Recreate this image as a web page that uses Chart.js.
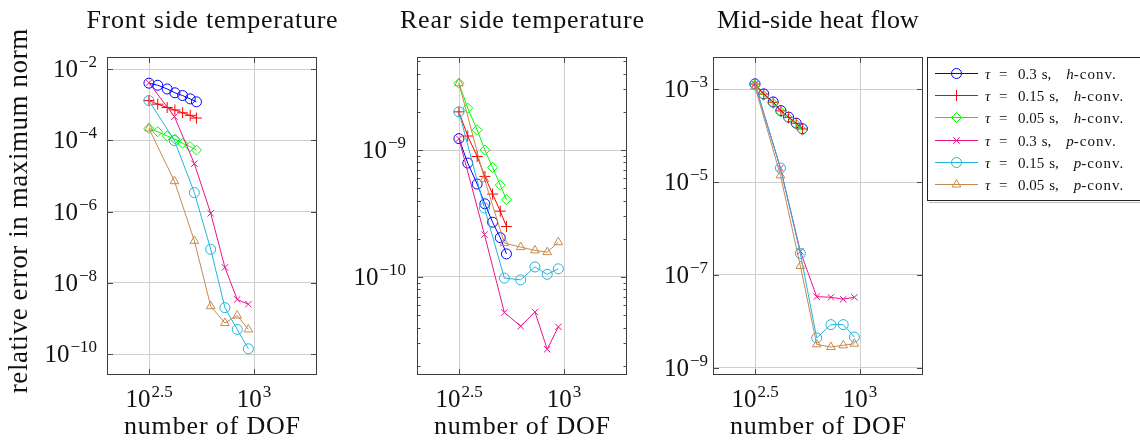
<!DOCTYPE html>
<html>
<head>
<meta charset="utf-8">
<title>Convergence of error</title>
<script src="https://cdn.jsdelivr.net/npm/chart.js@4.4.1/dist/chart.umd.min.js"></script>
<style>
  body { margin: 0; background: #fff; }
  #wrap { position: relative; width: 1140px; height: 446px; overflow: hidden; }
  #wrap canvas { position: absolute; left: 0; top: 0; }
</style>
</head>
<body>
<div id="wrap">
  <canvas id="front" width="1140" height="446"></canvas>
  <canvas id="rear" width="1140" height="446"></canvas>
  <canvas id="mid" width="1140" height="446"></canvas>
</div>
<script>
// number of DOF for h- and p-refinement
const dofH = [316, 348, 386, 420, 457, 497, 532];
const dofP = [316, 418, 520, 622, 727, 832, 940];

const tauValues = ['0.3', '0.15', '0.05', '0.3', '0.15', '0.05'];
const convTypes = ['h', 'h', 'h', 'p', 'p', 'p'];

// front side temperature
const frontH03  = [4.0e-3, 3.5e-3, 2.75e-3, 2.15e-3, 1.8e-3, 1.45e-3, 1.2e-3];
const frontH015 = [1.3e-3, 1.03e-3, 8.3e-4, 7.1e-4, 5.9e-4, 5.0e-4, 4.2e-4];
const frontH005 = [2.15e-4, 1.74e-4, 1.32e-4, 1.07e-4, 8.2e-5, 6.6e-5, 5.3e-5];
const frontP03  = [4.1e-3, 4.6e-4, 2.2e-5, 8.9e-7, 2.7e-8, 3.4e-9, 2.5e-9];
const frontP015 = [1.3e-3, 9.8e-5, 3.4e-6, 8.7e-8, 2.0e-9, 4.9e-10, 1.4e-10];
const frontP005 = [2.15e-4, 7.1e-6, 1.5e-7, 2.2e-9, 7.4e-10, 1.2e-9, 4.9e-10];

// rear side temperature
const rearH03  = [1.23e-9, 7.9e-10, 5.4e-10, 3.77e-10, 2.7e-10, 2.04e-10, 1.52e-10];
const rearH015 = [2.0e-9, 1.29e-9, 8.9e-10, 6.2e-10, 4.5e-10, 3.3e-10, 2.5e-10];
const rearH005 = [3.36e-9, 2.14e-9, 1.44e-9, 1.0e-9, 7.3e-10, 5.3e-10, 4.07e-10];
const rearP03  = [1.23e-9, 2.16e-10, 5.25e-11, 4.1e-11, 5.3e-11, 2.7e-11, 4.05e-11];
const rearP015 = [2.0e-9, 3.5e-10, 9.8e-11, 9.5e-11, 1.2e-10, 1.05e-10, 1.16e-10];
const rearP005 = [3.36e-9, 5.9e-10, 1.85e-10, 1.72e-10, 1.62e-10, 1.57e-10, 1.88e-10];

// mid-side heat flow
const midH03  = [1.3e-3, 7.9e-4, 5.3e-4, 3.45e-4, 2.5e-4, 1.85e-4, 1.4e-4];
const midH015 = [1.28e-3, 7.8e-4, 5.2e-4, 3.4e-4, 2.47e-4, 1.83e-4, 1.39e-4];
const midH005 = [1.2e-3, 7.3e-4, 4.9e-4, 3.2e-4, 2.33e-4, 1.73e-4, 1.3e-4];
const midP03  = [1.28e-3, 2.0e-5, 3.2e-7, 3.4e-8, 3.3e-8, 3.0e-8, 3.3e-8];
const midP015 = [1.28e-3, 2.0e-5, 2.9e-7, 4.4e-9, 8.5e-9, 8.5e-9, 4.6e-9];
const midP005 = [1.14e-3, 1.39e-5, 1.56e-7, 3.2e-9, 2.8e-9, 3.05e-9, 3.3e-9];

// tick exponents
const xTickExps = [2.5, 3];
const frontTickExps = [-2, -4, -6, -8, -10];
const rearTickExps = [-9, -10];
const midTickExps = [-3, -5, -7, -9];

const seriesStyle = [
  { color: '#0000ff', point: 'circle', radius: 5 },
  { color: '#ff0000', point: 'cross', radius: 5.5 },
  { color: '#00ff00', point: 'rectRot', radius: 5 },
  { color: '#e8168c', point: 'crossRot', radius: 4.5 },
  { color: '#21b4dc', point: 'circle', radius: 5 },
  { color: '#c8894e', point: 'triangle', radius: 5 }
];

const TOP = 57, BOTTOM = 375;
const SERIF = '"Liberation Serif", "Times New Roman", serif';

function rearMinor() {
  const out = [];
  [-11, -10, -9].forEach(e => {
    for (let k = 2; k <= 9; k++) {
      const v = k * Math.pow(10, e);
      if (v > Math.pow(10, -10.772) && v < Math.pow(10, -8.267)) out.push(v);
    }
  });
  return out;
}

const panels = {
  front: {
    title: 'Front side temperature', titleW: 252, left: 107, right: 317,
    yMin: -10.589, yMax: -1.663, ticks: frontTickExps, minor: [], gap: 10,
    series: [frontH03, frontH015, frontH005, frontP03, frontP015, frontP005], yTitle: true
  },
  rear: {
    title: 'Rear side temperature', titleW: 245, left: 417, right: 627,
    yMin: -10.772, yMax: -8.267, ticks: rearTickExps, minor: rearMinor(), gap: 11,
    series: [rearH03, rearH015, rearH005, rearP03, rearP015, rearP005]
  },
  mid: {
    title: 'Mid-side heat flow', titleW: 202, left: 713, right: 923,
    yMin: -9.144, yMax: -2.308, ticks: midTickExps, minor: [], gap: 5,
    series: [midH03, midH015, midH005, midP03, midP015, midP005], legend: true
  }
};

function fitText(ctx, text, cx, y, target) {
  ctx.letterSpacing = '0px';
  const w = ctx.measureText(text).width;
  const sp = Math.max(0, (target - w) / text.length);
  ctx.letterSpacing = sp + 'px';
  ctx.textAlign = 'left';
  ctx.fillText(text, cx - (w + sp * (text.length - 1)) / 2, y);
  ctx.letterSpacing = '0px';
}

function drawPow(ctx, exp, x, y, align) {
  ctx.textAlign = 'left';
  ctx.textBaseline = 'alphabetic';
  ctx.font = '25px ' + SERIF;
  const wb = ctx.measureText('10').width;
  ctx.font = '17px ' + SERIF;
  const we = ctx.measureText(exp).width + 1;
  const x0 = align === 'right' ? x - wb - we : x - (wb + we) / 2;
  ctx.font = '25px ' + SERIF;
  ctx.fillText('10', x0, y + 8);
  ctx.font = '17px ' + SERIF;
  ctx.fillText(exp, x0 + wb + 1, y - 2);
}

function drawLegend(ctx) {
  ctx.strokeStyle = '#222';
  ctx.lineWidth = 1;
  ctx.strokeRect(927.5, 57.5, 230, 143);
  ctx.strokeStyle = '#bbb';
  ctx.beginPath();
  ctx.moveTo(929, 202.5); ctx.lineTo(1140, 202.5);
  ctx.stroke();
  seriesStyle.forEach((st, i) => {
    const y = Math.round(73 + i * 22.2) + 0.5;
    ctx.strokeStyle = st.color;
    ctx.lineWidth = 1;
    ctx.beginPath();
    ctx.moveTo(935, y); ctx.lineTo(978, y);
    ctx.stroke();
    ctx.fillStyle = 'rgba(0,0,0,0)';
    if (Chart.helpers && Chart.helpers.drawPoint) {
      Chart.helpers.drawPoint(ctx, { pointStyle: st.point, radius: st.radius, borderWidth: 1, rotation: 0 }, 956.5, y);
    }
    ctx.fillStyle = '#111';
    ctx.textAlign = 'left';
    ctx.textBaseline = 'alphabetic';
    const base = y + 5;
    ctx.font = 'italic 15px ' + SERIF;
    ctx.fillText('\u03c4', 985, base);
    ctx.font = '15px ' + SERIF;
    ctx.fillText('=', 999, base);
    ctx.fillText(tauValues[i], 1018, base);
    let x = 1018 + ctx.measureText(tauValues[i]).width + 5;
    ctx.fillText('s,', x, base);
    x += ctx.measureText('s,').width + 15;
    ctx.font = 'italic 15px ' + SERIF;
    ctx.fillText(convTypes[i], x, base);
    x += ctx.measureText(convTypes[i]).width;
    ctx.font = '15px ' + SERIF;
    ctx.letterSpacing = '1px';
    ctx.fillText('-conv.', x, base);
    ctx.letterSpacing = '0px';
  });
}

const decoPlugin = {
  id: 'deco',
  afterDraw(chart) {
    const p = panels[chart.canvas.id];
    const ctx = chart.ctx, a = chart.chartArea;
    const xs = chart.scales.x, ys = chart.scales.y;
    ctx.save();
    // frame
    ctx.strokeStyle = '#3c3c3c';
    ctx.lineWidth = 1;
    ctx.strokeRect(a.left + 0.5, a.top + 0.5, a.right - a.left - 1, a.bottom - a.top - 1);
    // inner tick marks
    ctx.strokeStyle = '#4a4a4a';
    ctx.beginPath();
    p.ticks.forEach(e => {
      const y = Math.round(ys.getPixelForValue(Math.pow(10, e))) + 0.5;
      ctx.moveTo(a.left, y); ctx.lineTo(a.left + 6, y);
      ctx.moveTo(a.right, y); ctx.lineTo(a.right - 6, y);
    });
    p.minor.forEach(v => {
      const y = Math.round(ys.getPixelForValue(v)) + 0.5;
      ctx.moveTo(a.left, y); ctx.lineTo(a.left + 3.5, y);
      ctx.moveTo(a.right, y); ctx.lineTo(a.right - 3.5, y);
    });
    xTickExps.forEach(e => {
      const x = Math.round(xs.getPixelForValue(Math.pow(10, e))) + 0.5;
      ctx.moveTo(x, a.bottom); ctx.lineTo(x, a.bottom - 6);
      ctx.moveTo(x, a.top); ctx.lineTo(x, a.top + 6);
    });
    ctx.stroke();
    // tick labels
    ctx.fillStyle = '#111';
    p.ticks.forEach(e => drawPow(ctx, '\u2212' + Math.abs(e), a.left - p.gap, ys.getPixelForValue(Math.pow(10, e)), 'right'));
    xTickExps.forEach(e => drawPow(ctx, String(e), xs.getPixelForValue(Math.pow(10, e)), 399, 'center'));
    // titles
    const cx = (a.left + a.right) / 2;
    ctx.textBaseline = 'alphabetic';
    ctx.font = '26px ' + SERIF;
    fitText(ctx, p.title, cx, 28, p.titleW);
    fitText(ctx, 'number of DOF', cx, 434, 177);
    if (p.yTitle) {
      ctx.save();
      ctx.translate(27, 211);
      ctx.rotate(-Math.PI / 2);
      ctx.font = '27px ' + SERIF;
      fitText(ctx, 'relative error in maximum norm', 0, 0, 365);
      ctx.restore();
    }
    if (p.legend) drawLegend(ctx);
    ctx.restore();
  }
};

function makeChart(id) {
  const p = panels[id];
  const datasets = p.series.map((vals, i) => {
    const xs = i < 3 ? dofH : dofP;
    const st = seriesStyle[i];
    return {
      label: 'tau ' + tauValues[i] + ' ' + convTypes[i],
      data: vals.map((v, j) => ({ x: xs[j], y: v })),
      borderColor: st.color,
      backgroundColor: 'rgba(0,0,0,0)',
      pointBorderColor: st.color,
      pointBackgroundColor: 'rgba(0,0,0,0)',
      pointStyle: st.point,
      pointRadius: st.radius,
      pointBorderWidth: 1,
      borderWidth: 1,
      tension: 0,
      order: 6 - i
    };
  });
  const grid = { color: '#cfcfcf', lineWidth: 1, drawTicks: false };
  return new Chart(document.getElementById(id), {
    type: 'line',
    data: { datasets },
    options: {
      responsive: false,
      animation: false,
      events: [],
      layout: { padding: { left: p.left, right: 1140 - p.right, top: TOP, bottom: 446 - BOTTOM } },
      plugins: { legend: { display: false }, tooltip: { enabled: false } },
      scales: {
        x: {
          type: 'logarithmic',
          min: Math.pow(10, 2.3), max: Math.pow(10, 3.3),
          afterBuildTicks: s => { s.ticks = xTickExps.map(e => ({ value: Math.pow(10, e) })); },
          afterFit: s => { s.height = 0; },
          ticks: { display: false },
          grid: grid,
          border: { display: false }
        },
        y: {
          type: 'logarithmic',
          min: Math.pow(10, p.yMin), max: Math.pow(10, p.yMax),
          afterBuildTicks: s => { s.ticks = p.ticks.map(e => ({ value: Math.pow(10, e) })); },
          afterFit: s => { s.width = 0; },
          ticks: { display: false },
          grid: grid,
          border: { display: false }
        }
      }
    },
    plugins: [decoPlugin]
  });
}

makeChart('front');
makeChart('rear');
makeChart('mid');
</script>
</body>
</html>
